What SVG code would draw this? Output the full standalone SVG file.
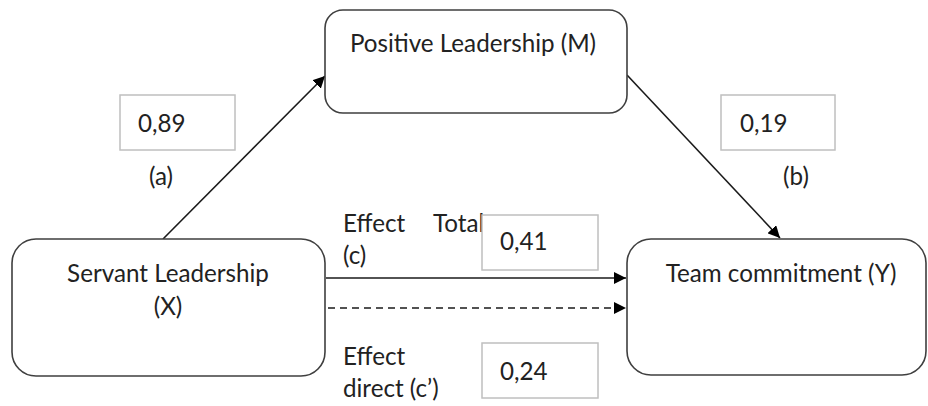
<svg xmlns="http://www.w3.org/2000/svg" width="928" height="406" viewBox="0 0 928 406">
  <style>
    .node { fill: #ffffff; stroke: #3f3f3f; stroke-width: 1.6; }
    .val { fill: #ffffff; stroke: #bfbfbf; stroke-width: 1.5; }
    text { font-family: "Lato", "Liberation Sans", sans-serif; font-size: 24.2px; fill: #222222; }
    .mid { text-anchor: middle; }
    .edge { stroke: #1a1a1a; stroke-width: 1.6; fill: none; }
    .dash { stroke-dasharray: 7 5; }
  </style>
  <defs>
    <marker id="arrow" viewBox="0 0 12 12" refX="12" refY="6" markerWidth="12" markerHeight="12" markerUnits="userSpaceOnUse" orient="auto">
      <path d="M0,0 L12,6 L0,12 Z" fill="#000000"/>
    </marker>
  </defs>

  <!-- connectors -->
  <g id="connectors">
    <line class="edge" x1="163" y1="239" x2="325" y2="76" marker-end="url(#arrow)"/>
    <line class="edge" x1="627" y1="75" x2="780" y2="238" marker-end="url(#arrow)"/>
    <line class="edge" x1="326" y1="278" x2="626" y2="278" marker-end="url(#arrow)"/>
    <line class="edge dash" x1="328" y1="308" x2="626" y2="308" marker-end="url(#arrow)"/>
  </g>

  <!-- nodes -->
  <g id="node-m">
    <rect class="node" x="325" y="10" width="302" height="103" rx="18" ry="18"/>
    <text class="mid" x="473" y="52">Positive Leadership (M)</text>
  </g>
  <g id="node-x">
    <rect class="node" x="12" y="239" width="313" height="137" rx="24" ry="24"/>
    <text class="mid" x="168" y="282">Servant Leadership</text>
    <text class="mid" x="168" y="315">(X)</text>
  </g>
  <g id="node-y">
    <rect class="node" x="627" y="239" width="299" height="136" rx="24" ry="24"/>
    <text class="mid" x="781" y="282">Team commitment (Y)</text>
  </g>

  <!-- coefficient boxes and path labels -->
  <g id="label-a">
    <rect class="val" x="120" y="95" width="115" height="55"/>
    <text x="138" y="132">0,89</text>
    <text class="mid" x="161" y="185">(a)</text>
  </g>
  <g id="label-b">
    <rect class="val" x="721" y="95" width="114" height="55"/>
    <text x="740" y="132">0,19</text>
    <text class="mid" x="796" y="185">(b)</text>
  </g>
  <g id="label-c">
    <text x="343" y="232">Effect</text>
    <text x="433" y="232">Total</text>
    <text x="343" y="264">(c)</text>
    <rect class="val" x="482" y="215" width="116" height="55"/>
    <text x="500" y="250">0,41</text>
  </g>
  <g id="label-c-prime">
    <text x="343" y="365">Effect</text>
    <text x="343" y="397">direct (c’)</text>
    <rect class="val" x="482" y="343" width="116" height="55"/>
    <text x="500" y="380">0,24</text>
  </g>
</svg>
